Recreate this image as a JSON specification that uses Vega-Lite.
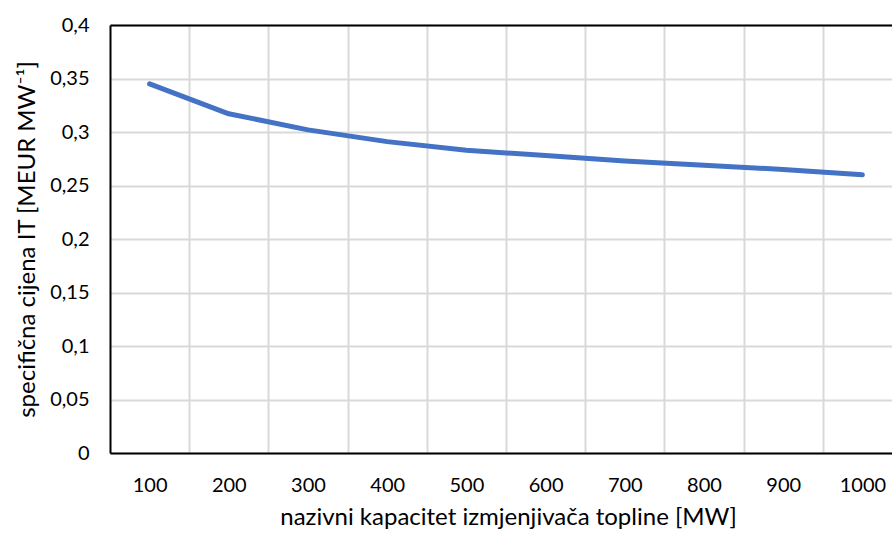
{
  "$schema": "https://vega.github.io/schema/vega-lite/v6.json",
  "width": 782,
  "height": 428,
  "autosize": {"type": "none"},
  "padding": {"left": 110, "top": 25, "right": 0, "bottom": 82},
  "config": {
    "view": {"stroke": null},
    "font": "Lato",
    "axis": {
      "labelFont": "Lato",
      "titleFont": "Lato",
      "labelFontSize": 20,
      "titleFontSize": 24,
      "titleFontWeight": "normal",
      "labelColor": "#000000",
      "titleColor": "#000000",
      "gridColor": "#d9d9d9",
      "gridWidth": 2,
      "domainColor": "#000000",
      "domainWidth": 2,
      "ticks": false
    }
  },
  "data": {
    "values": [
      {"kapacitet": 100, "cijena": 0.345},
      {"kapacitet": 200, "cijena": 0.317},
      {"kapacitet": 300, "cijena": 0.302},
      {"kapacitet": 400, "cijena": 0.291},
      {"kapacitet": 500, "cijena": 0.283},
      {"kapacitet": 600, "cijena": 0.278},
      {"kapacitet": 700, "cijena": 0.273},
      {"kapacitet": 800, "cijena": 0.269},
      {"kapacitet": 900, "cijena": 0.265},
      {"kapacitet": 1000, "cijena": 0.260}
    ]
  },
  "layer": [
    {
      "mark": {"type": "line", "opacity": 0},
      "encoding": {
        "x": {
          "field": "kapacitet",
          "type": "quantitative",
          "scale": {"domain": [50, 1037.4], "nice": false, "zero": false},
          "axis": {
            "orient": "top",
            "values": [150, 250, 350, 450, 550, 650, 750, 850, 950],
            "grid": true,
            "labels": false,
            "ticks": false,
            "title": null
          }
        },
        "y": {
          "field": "cijena",
          "type": "quantitative",
          "scale": {"domain": [0, 0.4], "nice": false, "zero": true}
        }
      }
    },
    {
      "mark": {"type": "line", "color": "#4472C4", "strokeWidth": 5, "strokeCap": "round", "strokeJoin": "round"},
      "encoding": {
        "x": {
          "field": "kapacitet",
          "type": "quantitative",
          "scale": {"domain": [50, 1037.4], "nice": false, "zero": false},
          "axis": {
            "orient": "bottom",
            "values": [100, 200, 300, 400, 500, 600, 700, 800, 900, 1000],
            "format": "d",
            "grid": false,
            "labelPadding": 22,
            "title": "nazivni kapacitet izmjenjivača topline [MW]",
            "titlePadding": 10,
            "titleX": 398
          }
        },
        "y": {
          "field": "cijena",
          "type": "quantitative",
          "scale": {"domain": [0, 0.4], "nice": false, "zero": true},
          "axis": {
            "values": [0, 0.05, 0.1, 0.15, 0.2, 0.25, 0.3, 0.35, 0.4],
            "labelExpr": "replace(format(datum.value, '~g'), '.', ',')",
            "grid": true,
            "labelPadding": 21,
            "title": "specifična cijena IT [MEUR MW⁻¹]",
            "titlePadding": 10
          }
        }
      }
    }
  ],
  "resolve": {"axis": {"x": "independent"}}
}
